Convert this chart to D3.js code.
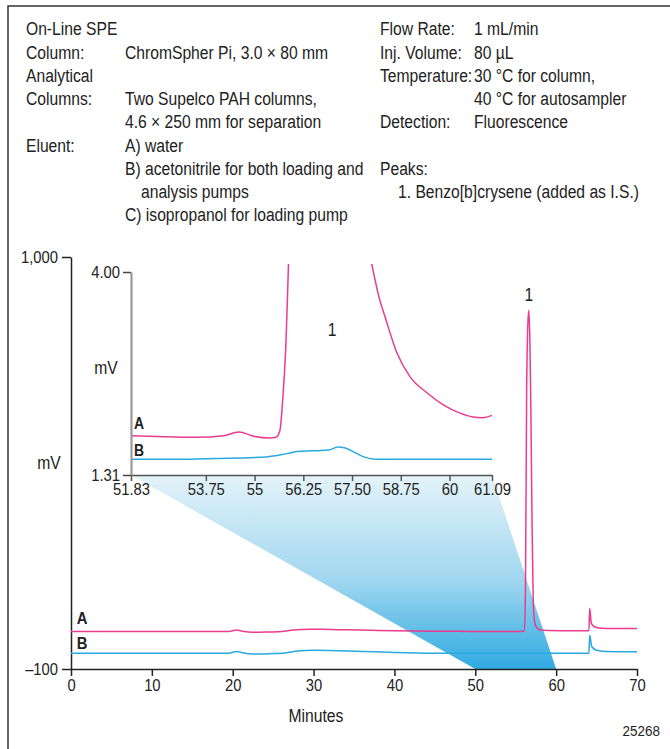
<!DOCTYPE html>
<html>
<head>
<meta charset="utf-8">
<script src="https://cdn.jsdelivr.net/npm/d3@7"></script>
<style>
  body { margin: 0; background: #fff; }
  svg { display: block; }
  text { font-family: "Liberation Sans", Arimo, Arial, sans-serif; fill: #222; }
</style>
</head>
<body>
<div id="chart"></div>
<script>
// condiciones (texto del encabezado)
const headerLeft = [
  ["On-Line SPE", ""],
  ["Column:", "ChromSpher Pi, 3.0 \u00d7 80 mm"],
  ["Analytical", ""],
  ["Columns:", "Two Supelco PAH columns,"],
  ["", "4.6 \u00d7 250 mm for separation"],
  ["Eluent:", "A) water"],
  ["", "B) acetonitrile for both loading and"],
  ["", "analysis pumps"],
  ["", "C) isopropanol for loading pump"]
];
const headerRight = [
  ["Flow Rate:", "1 mL/min"],
  ["Inj. Volume:", "80 \u00b5L"],
  ["Temperature:", "30 \u00b0C for column,"],
  ["", "40 \u00b0C for autosampler"],
  ["Detection:", "Fluorescence"],
  ["", ""],
  ["Peaks:", ""],
  ["", ""]
];
const peakNames = ["1. Benzo[b]crysene (added as I.S.)"];

// cromatograma completo (min, mV)
const mainTicksX = [0, 10, 20, 30, 40, 50, 60, 70];
const mainTicksY = [1000, -100];
const traceA = [
  [0, 0], [19.5, 0], [20.5, 4], [21.2, 1], [22.5, -2], [24, -1.5], [26, 0],
  [27.5, 4], [29.5, 6], [31, 6], [33, 5], [36, 4], [40, 2], [44, 1], [48, 0.5],
  [52, 0], [55.6, 0], [56.05, 2], [56.2, 100], [56.35, 637], [56.5, 820],
  [56.62, 858], [56.75, 780], [56.85, 637], [57.0, 330], [57.17, 76],
  [57.35, 25], [57.6, 10], [58.0, 5], [59, 3], [62, 2], [64.05, 2],
  [64.15, 62], [64.35, 22], [64.8, 12], [65.5, 9], [67, 8], [70, 8]
];
const traceB = [
  [0, -58], [19.5, -58], [20.5, -53], [21.3, -57], [22.5, -60], [24.5, -59],
  [26.5, -57], [28, -52], [30, -50], [33, -51], [36, -53], [40, -56], [45, -58],
  [64.05, -58], [64.15, -10], [64.4, -40], [65, -50], [66, -53], [70, -54]
];
const zoomWindow = [50, 60];

// ampliacion (min, mV)
const insetTicksX = [51.83, 53.75, 55, 56.25, 57.5, 58.75, 60, 61.09];
const insetTickLabelsX = ["51.83", "53.75", "55", "56.25", "57.50", "58.75", "60", "61.09"];
const insetTicksY = [4.00, 1.31];
const insetA = [
  [51.83, 1.83], [52.5, 1.82], [53.5, 1.81], [54.2, 1.83], [54.6, 1.88],
  [55.0, 1.82], [55.4, 1.80], [55.55, 1.81], [55.65, 1.9], [55.72, 2.3],
  [55.8, 3.0], [55.84, 3.6], [55.87, 4.12],
  [56.9, null],
  [58.0, 4.12], [58.2, 3.65], [58.35, 3.40], [58.65, 2.93], [58.99, 2.61],
  [59.42, 2.40], [59.84, 2.24], [60.27, 2.13], [60.6, 2.08], [60.85, 2.07],
  [61.09, 2.10]
];
const insetB = [
  [51.83, 1.52], [53, 1.52], [54, 1.53], [55.3, 1.55], [55.8, 1.59],
  [56.09, 1.62], [56.5, 1.63], [56.9, 1.64], [57.14, 1.68], [57.3, 1.67],
  [57.45, 1.64], [57.8, 1.55], [58.1, 1.52], [61.09, 1.52]
];

const pink = "#ea3b8f", blue = "#2aa8e0";
const width = 670, height = 749;
const fs = 18;       // tamaño de letra del texto
const squeeze = 0.87; // letra estrecha (no hay Helvetica Condensed)

const svg = d3.select("#chart").append("svg")
  .attr("width", width)
  .attr("height", height);

// marco
svg.append("path")
  .attr("d", "M8,749 V6 H670")
  .attr("fill", "none")
  .attr("stroke", "#333")
  .attr("stroke-width", 1.5);

// encabezado
const lineH = 23.25, top0 = 35.5;
headerLeft.forEach((r, i) => {
  svg.append("text").attr("x", 26).attr("y", top0 + i * lineH)
    .attr("font-size", fs).text(r[0]);
  svg.append("text").attr("x", i === 7 ? 141 : 125).attr("y", top0 + i * lineH)
    .attr("font-size", fs).text(r[1]);
});
headerRight.forEach((r, i) => {
  svg.append("text").attr("x", 380).attr("y", top0 + i * lineH)
    .attr("font-size", fs).text(r[0]);
  svg.append("text").attr("x", 474).attr("y", top0 + i * lineH)
    .attr("font-size", fs).text(r[1]);
});
peakNames.forEach((p, i) => {
  svg.append("text").attr("x", 398).attr("y", top0 + (7 + i) * lineH)
    .attr("font-size", fs).text(p);
});

// escalas
const x = d3.scaleLinear().domain([0, 70]).range([71, 637]);
const y = d3.scaleLinear().domain([-100, 1000]).range([669, 257]);
const ix = d3.scaleLinear().domain([51.83, 61.09]).range([131, 492]);
const iy = d3.scaleLinear().domain([1.31, 4.00]).range([475, 272]);

// sombreado de la ampliacion
const defs = svg.append("defs");
const grad = defs.append("linearGradient")
  .attr("id", "shade")
  .attr("gradientUnits", "userSpaceOnUse")
  .attr("x1", 0).attr("y1", iy(1.31))
  .attr("x2", 0).attr("y2", y(-100));
grad.append("stop").attr("offset", "0%").attr("stop-color", "#e4f3f9");
grad.append("stop").attr("offset", "55%").attr("stop-color", "#9fd6ef");
grad.append("stop").attr("offset", "100%").attr("stop-color", "#2faae2");

svg.append("path")
  .attr("d", `M${ix(51.83)},${iy(1.31)} L${ix(61.09)},${iy(1.31)} L${x(zoomWindow[1])},${y(-100)} L${x(zoomWindow[0])},${y(-100)} Z`)
  .attr("fill", "url(#shade)");

// ejes principales
const xAxis = svg.append("g")
  .attr("transform", `translate(0,${y(-100)})`)
  .call(d3.axisBottom(x).tickValues(mainTicksX).tickSize(7).tickSizeOuter(0).tickPadding(3));
const yAxis = svg.append("g")
  .attr("transform", `translate(${x(0)},0)`)
  .call(d3.axisLeft(y).tickValues(mainTicksY).tickSize(9).tickSizeOuter(0).tickPadding(4)
    .tickFormat(d => d === -100 ? "\u2013100" : d3.format(",")(d)));
[xAxis, yAxis].forEach(a => {
  a.attr("font-family", null);
  a.select(".domain").attr("stroke", "#222").attr("stroke-width", 1.5);
  a.selectAll(".tick line").attr("stroke", "#222").attr("stroke-width", 1.5);
  a.selectAll(".tick text").attr("font-size", 17).attr("fill", "#222");
});
yAxis.selectAll(".tick text").attr("dy", "0.35em");

svg.append("text").attr("x", 316).attr("y", 722)
  .attr("text-anchor", "middle").attr("font-size", fs).text("Minutes");
svg.append("text").attr("x", 49).attr("y", 469)
  .attr("text-anchor", "middle").attr("font-size", fs).text("mV");
svg.append("text").attr("x", 660).attr("y", 736)
  .attr("text-anchor", "end").attr("font-size", 15.5).text("25268");

// trazas principales
const mainLine = d3.line().x(d => x(d[0])).y(d => y(d[1])).curve(d3.curveMonotoneX);
svg.append("path").datum(traceA).attr("d", mainLine)
  .attr("fill", "none").attr("stroke", pink).attr("stroke-width", 1.5);
svg.append("path").datum(traceB).attr("d", mainLine)
  .attr("fill", "none").attr("stroke", blue).attr("stroke-width", 1.5);

svg.append("text").attr("x", 82).attr("y", 624).attr("text-anchor", "middle")
  .attr("font-size", 17).attr("font-weight", "bold").text("A");
svg.append("text").attr("x", 82).attr("y", 649).attr("text-anchor", "middle")
  .attr("font-size", 17).attr("font-weight", "bold").text("B");
svg.append("text").attr("x", x(56.62)).attr("y", 301).attr("text-anchor", "middle")
  .attr("font-size", fs).text("1");

// ampliacion
const inset = svg.append("g");
defs.append("clipPath").attr("id", "insetClip")
  .append("rect").attr("x", ix(51.83)).attr("y", 264)
  .attr("width", ix(61.09) - ix(51.83) + 4).attr("height", iy(1.31) - 264);

const insetLine = d3.line().defined(d => d[1] !== null)
  .x(d => ix(d[0])).y(d => iy(d[1])).curve(d3.curveMonotoneX);
inset.append("path").datum(insetA).attr("d", insetLine)
  .attr("clip-path", "url(#insetClip)")
  .attr("fill", "none").attr("stroke", pink).attr("stroke-width", 1.5);
inset.append("path").datum(insetB).attr("d", insetLine)
  .attr("clip-path", "url(#insetClip)")
  .attr("fill", "none").attr("stroke", blue).attr("stroke-width", 1.5);

const ixAxis = inset.append("g")
  .attr("transform", `translate(0,${iy(1.31)})`)
  .call(d3.axisBottom(ix).tickValues(insetTicksX).tickSize(6).tickSizeOuter(0).tickPadding(2)
    .tickFormat((d, i) => insetTickLabelsX[i]));
ixAxis.select(".domain").attr("stroke", "#555").attr("stroke-width", 1.5);
ixAxis.selectAll(".tick line").attr("stroke", "#555").attr("stroke-width", 1.5);

const iyAxis = inset.append("g")
  .attr("transform", `translate(${ix(51.83)},0)`)
  .call(d3.axisLeft(iy).tickValues(insetTicksY).tickSize(8).tickSizeOuter(0).tickPadding(3)
    .tickFormat(d3.format(".2f")));
iyAxis.select(".domain").attr("stroke", "#999").attr("stroke-width", 2.2);
iyAxis.selectAll(".tick line").attr("stroke", "#444").attr("stroke-width", 1.5);
iyAxis.selectAll(".tick text").attr("dy", "0.35em");
[ixAxis, iyAxis].forEach(a => {
  a.attr("font-family", null);
  a.selectAll(".tick text").attr("font-size", 17).attr("fill", "#222");
});

inset.append("text").attr("x", 106).attr("y", 374).attr("text-anchor", "middle")
  .attr("font-size", fs).text("mV");
inset.append("text").attr("x", 139).attr("y", 429).attr("text-anchor", "middle")
  .attr("font-size", 16).attr("font-weight", "bold").text("A");
inset.append("text").attr("x", 139).attr("y", 456).attr("text-anchor", "middle")
  .attr("font-size", 16).attr("font-weight", "bold").text("B");
inset.append("text").attr("x", 332).attr("y", 336).attr("text-anchor", "middle")
  .attr("font-size", fs).text("1");

// estrechar todos los textos en horizontal alrededor de su ancla
svg.selectAll("text").each(function () {
  const t = d3.select(this);
  const x0 = +t.attr("x") || 0;
  t.attr("transform", `translate(${x0},0) scale(${squeeze},1) translate(${-x0},0)`);
});
</script>
</body>
</html>
